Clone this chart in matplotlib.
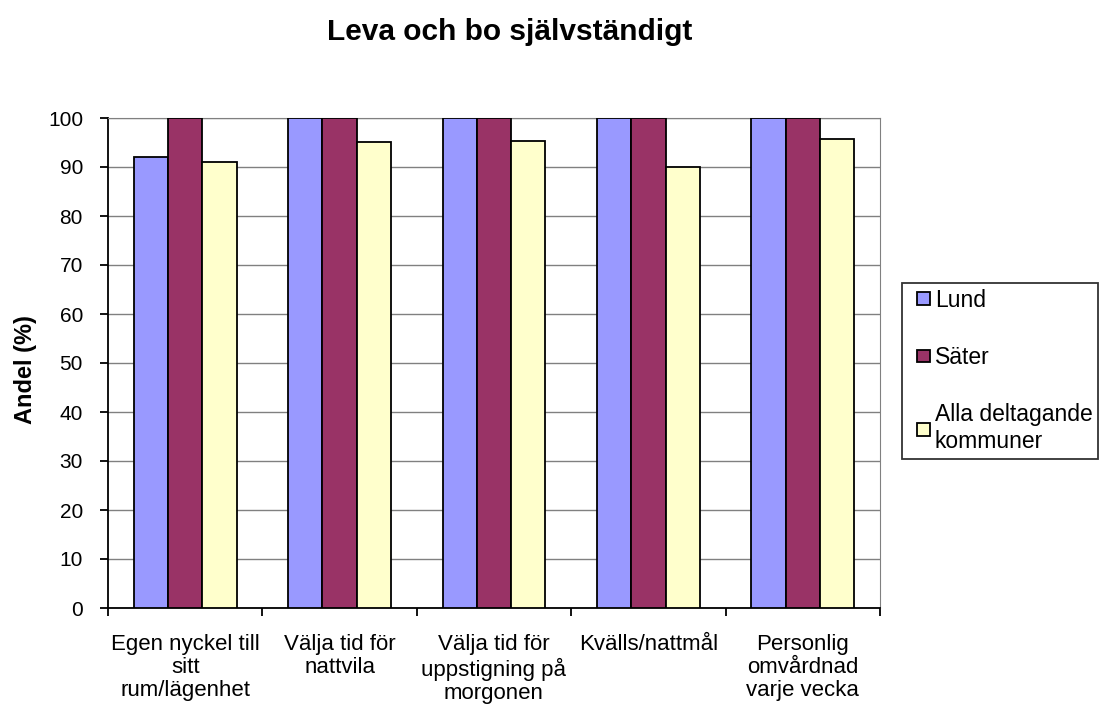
import matplotlib
matplotlib.use("Agg")
import matplotlib.pyplot as plt
from matplotlib.patches import Rectangle
from matplotlib.legend_handler import HandlerPatch
import numpy as np

categories = ["Egen nyckel till\nsitt\nrum/lägenhet", "Välja tid för\nnattvila",
              "Välja tid för\nuppstigning på\nmorgonen", "Kvälls/nattmål",
              "Personlig\nomvårdnad\nvarje vecka"]
series_names = ["Lund", "Säter", "Alla deltagande\nkommuner"]
lund = [92, 100, 100, 100, 100]
sater = [100, 100, 100, 100, 100]
alla = [91.1, 95.0, 95.3, 89.9, 95.7]
colors = ["#9999FF", "#993366", "#FFFFCC"]

plt.rcParams['font.family'] = ['Liberation Sans', 'DejaVu Sans']

fig = plt.figure(figsize=(11, 7.06), dpi=100)
ax = fig.add_axes([108/1100, 1-608/706, (880-108)/1100, (608-118)/706])

x = np.arange(len(categories))
w = 1/4.5
bars = []
for i, (vals, name, c) in enumerate(zip([lund, sater, alla], series_names, colors)):
    b = ax.bar(x + (i-1)*w, vals, width=w, color=c, edgecolor="black", linewidth=1.3,
               label=name, zorder=3)
    bars.append(b)

ax.set_xlim(-0.5, len(categories)-0.5)
ax.set_ylim(0, 100)
ax.set_yticks(np.arange(0, 101, 10))
ax.yaxis.grid(True, color="#808080", linewidth=1, zorder=0)
ax.set_axisbelow(True)
ax.set_xticks(np.arange(-0.5, len(categories), 1))
ax.set_xticklabels([])
ax.set_xticks(x, minor=True)
ax.set_xticklabels(categories, minor=True, fontsize=16, linespacing=1.12)
ax.tick_params(axis='x', which='minor', length=0, pad=19)
ax.tick_params(axis='x', which='major', length=6, direction='out', width=1.3)
ax.tick_params(axis='y', length=6, direction='out', width=1.3, labelsize=15, pad=12)
for s in ["top", "right"]:
    ax.spines[s].set_color("#808080")
for s in ["left", "bottom"]:
    ax.spines[s].set_linewidth(1.3)

ax.set_ylabel("Andel (%)", fontsize=17, fontweight="bold", va="center")
ax.yaxis.set_label_coords((25-108)/(880-108), (608-370)/490)
fig.text(0.463, 1-32/706, "Leva och bo självständigt", ha="center", va="center",
         fontsize=21.5, fontweight="bold")


def small_square(legend, orig_handle, xdescent, ydescent, width, height, fontsize):
    s = height
    return Rectangle((-xdescent + width - s, -ydescent + (height - s) / 2), s, s)


leg = ax.legend([b[0] for b in bars], series_names,
                loc="upper left", bbox_to_anchor=(902/1100, 1-283/706),
                bbox_transform=fig.transFigure, frameon=True, fancybox=False,
                edgecolor="black", fontsize=16.5, handlelength=0.98, handleheight=0.48,
                handletextpad=0.2, labelspacing=1.5, borderaxespad=0, borderpad=0.25,
                handler_map={Rectangle: HandlerPatch(patch_func=small_square)})
leg.get_frame().set_linewidth(1.3)

fig.savefig("out.png", dpi=100)
